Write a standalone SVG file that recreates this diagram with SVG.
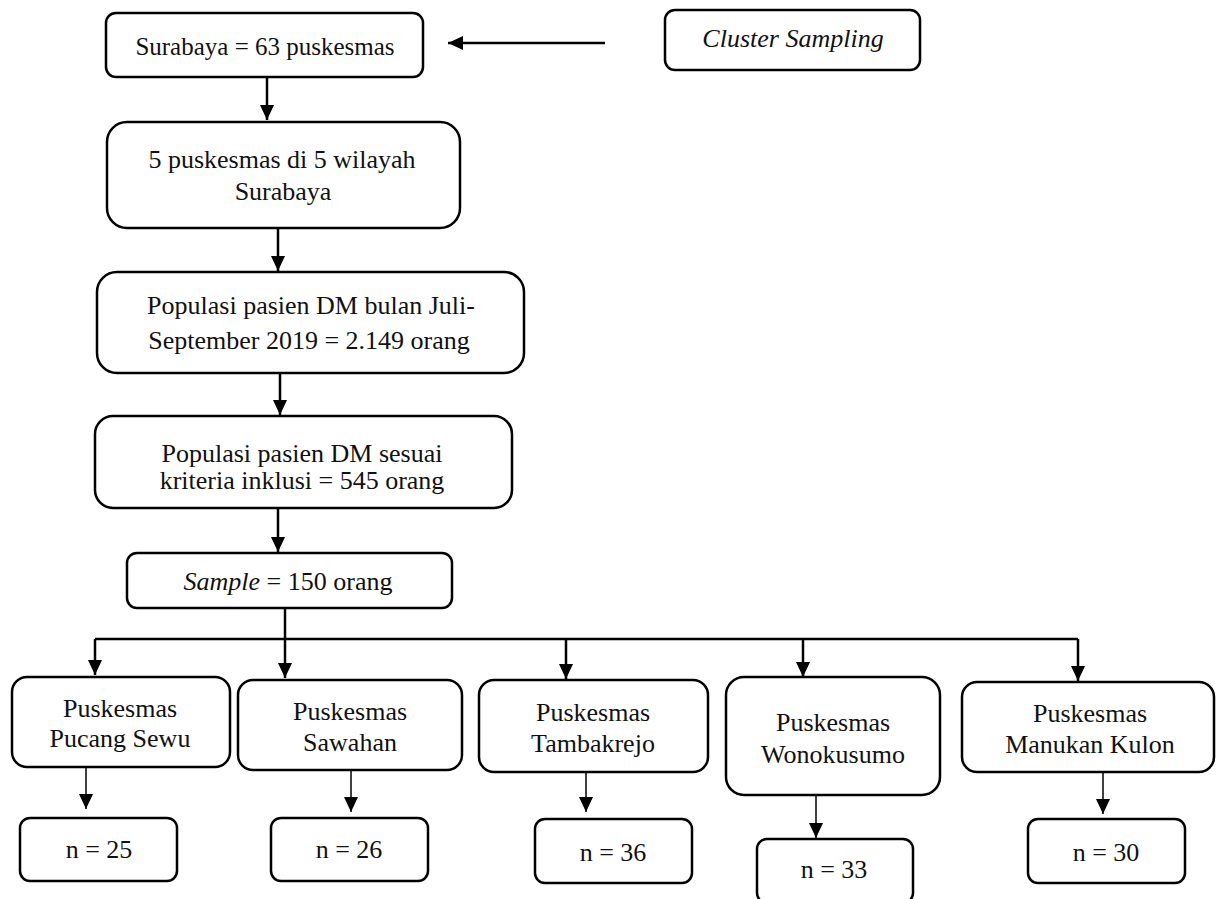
<svg xmlns="http://www.w3.org/2000/svg" width="1217" height="899" viewBox="0 0 1217 899">
<style>
.box{fill:#fff;stroke:#000;stroke-width:2.5}
.t{font-family:"Liberation Serif","Times New Roman",serif;font-size:26px;fill:#111;text-anchor:middle}
.i{font-style:italic}
.c{fill:none;stroke:#000;stroke-width:2.5}
.cs{fill:none;stroke:#000;stroke-width:1.5}
</style>
<defs>
<marker id="ah" markerUnits="userSpaceOnUse" viewBox="0 0 15 14" refX="15" refY="7" markerWidth="15" markerHeight="14" orient="auto"><path d="M0,0 L15,7 L0,14 z" fill="#000"/></marker>
</defs>
<g id="connectors">
<line class="c" x1="605" y1="43" x2="448" y2="43" marker-end="url(#ah)"/>
<line class="c" x1="267" y1="77" x2="267" y2="120" marker-end="url(#ah)"/>
<line class="c" x1="278" y1="228" x2="278" y2="271" marker-end="url(#ah)"/>
<line class="c" x1="280" y1="373" x2="280" y2="415" marker-end="url(#ah)"/>
<line class="c" x1="278" y1="508" x2="278" y2="552" marker-end="url(#ah)"/>
<polyline class="c" points="285,608 285,639"/>
<line class="c" x1="95" y1="639" x2="1078" y2="639"/>
<line class="c" x1="95" y1="639" x2="95" y2="675" marker-end="url(#ah)"/>
<line class="c" x1="285" y1="639" x2="285" y2="678" marker-end="url(#ah)"/>
<line class="c" x1="566" y1="639" x2="566" y2="679" marker-end="url(#ah)"/>
<line class="c" x1="803" y1="639" x2="803" y2="677" marker-end="url(#ah)"/>
<line class="c" x1="1078" y1="639" x2="1078" y2="681" marker-end="url(#ah)"/>
<line class="cs" x1="86" y1="767" x2="86" y2="809" marker-end="url(#ah)"/>
<line class="cs" x1="351" y1="770" x2="351" y2="812" marker-end="url(#ah)"/>
<line class="cs" x1="586" y1="772" x2="586" y2="812" marker-end="url(#ah)"/>
<line class="cs" x1="816" y1="795" x2="816" y2="838" marker-end="url(#ah)"/>
<line class="cs" x1="1103" y1="772" x2="1103" y2="814" marker-end="url(#ah)"/>
</g>
<g id="n-surabaya"><rect class="box" x="106" y="13" width="317" height="64" rx="10"/><text class="t" x="265" y="55" style="font-size:25px">Surabaya = 63 puskesmas</text></g>
<g id="n-cluster"><rect class="box" x="665" y="10" width="255" height="60" rx="10"/><text class="t i" x="793" y="47">Cluster Sampling</text></g>
<g id="n-5puskesmas"><rect class="box" x="107" y="122" width="353" height="106" rx="20"/><text class="t" x="282" y="168">5 puskesmas di 5 wilayah</text><text class="t" x="283" y="200">Surabaya</text></g>
<g id="n-populasi"><rect class="box" x="97" y="272" width="427" height="101" rx="20"/><text class="t" x="311" y="314">Populasi pasien DM bulan Juli-</text><text class="t" x="309" y="349">September 2019 = 2.149 orang</text></g>
<g id="n-inklusi"><rect class="box" x="95" y="416" width="417" height="92" rx="18"/><text class="t" x="302" y="462">Populasi pasien DM sesuai</text><text class="t" x="302" y="489">kriteria inklusi = 545 orang</text></g>
<g id="n-sample"><rect class="box" x="127" y="553" width="325" height="55" rx="10"/><text class="t" x="288" y="590"><tspan class="i">Sample</tspan> = 150 orang</text></g>
<g id="n-pucang"><rect class="box" x="12" y="677" width="218" height="90" rx="15"/><text class="t" x="120" y="717">Puskesmas</text><text class="t" x="120" y="747">Pucang Sewu</text></g>
<g id="n-sawahan"><rect class="box" x="238" y="680" width="224" height="90" rx="15"/><text class="t" x="350" y="720">Puskesmas</text><text class="t" x="350" y="751">Sawahan</text></g>
<g id="n-tambakrejo"><rect class="box" x="479" y="680" width="229" height="92" rx="15"/><text class="t" x="593" y="721">Puskesmas</text><text class="t" x="593" y="752">Tambakrejo</text></g>
<g id="n-wonokusumo"><rect class="box" x="726" y="677" width="214" height="118" rx="18"/><text class="t" x="833" y="731">Puskesmas</text><text class="t" x="833" y="763">Wonokusumo</text></g>
<g id="n-manukan"><rect class="box" x="962" y="682" width="252" height="90" rx="15"/><text class="t" x="1090" y="722">Puskesmas</text><text class="t" x="1090" y="753">Manukan Kulon</text></g>
<g id="n-25"><rect class="box" x="20" y="818" width="157" height="63" rx="10"/><text class="t" x="99" y="858">n = 25</text></g>
<g id="n-26"><rect class="box" x="271" y="818" width="157" height="63" rx="10"/><text class="t" x="349" y="858">n = 26</text></g>
<g id="n-36"><rect class="box" x="535" y="819" width="157" height="64" rx="10"/><text class="t" x="613" y="861">n = 36</text></g>
<g id="n-33"><rect class="box" x="757" y="839" width="156" height="64" rx="10"/><text class="t" x="834" y="878">n = 33</text></g>
<g id="n-30"><rect class="box" x="1028" y="819" width="157" height="64" rx="10"/><text class="t" x="1106" y="861">n = 30</text></g>
</svg>
